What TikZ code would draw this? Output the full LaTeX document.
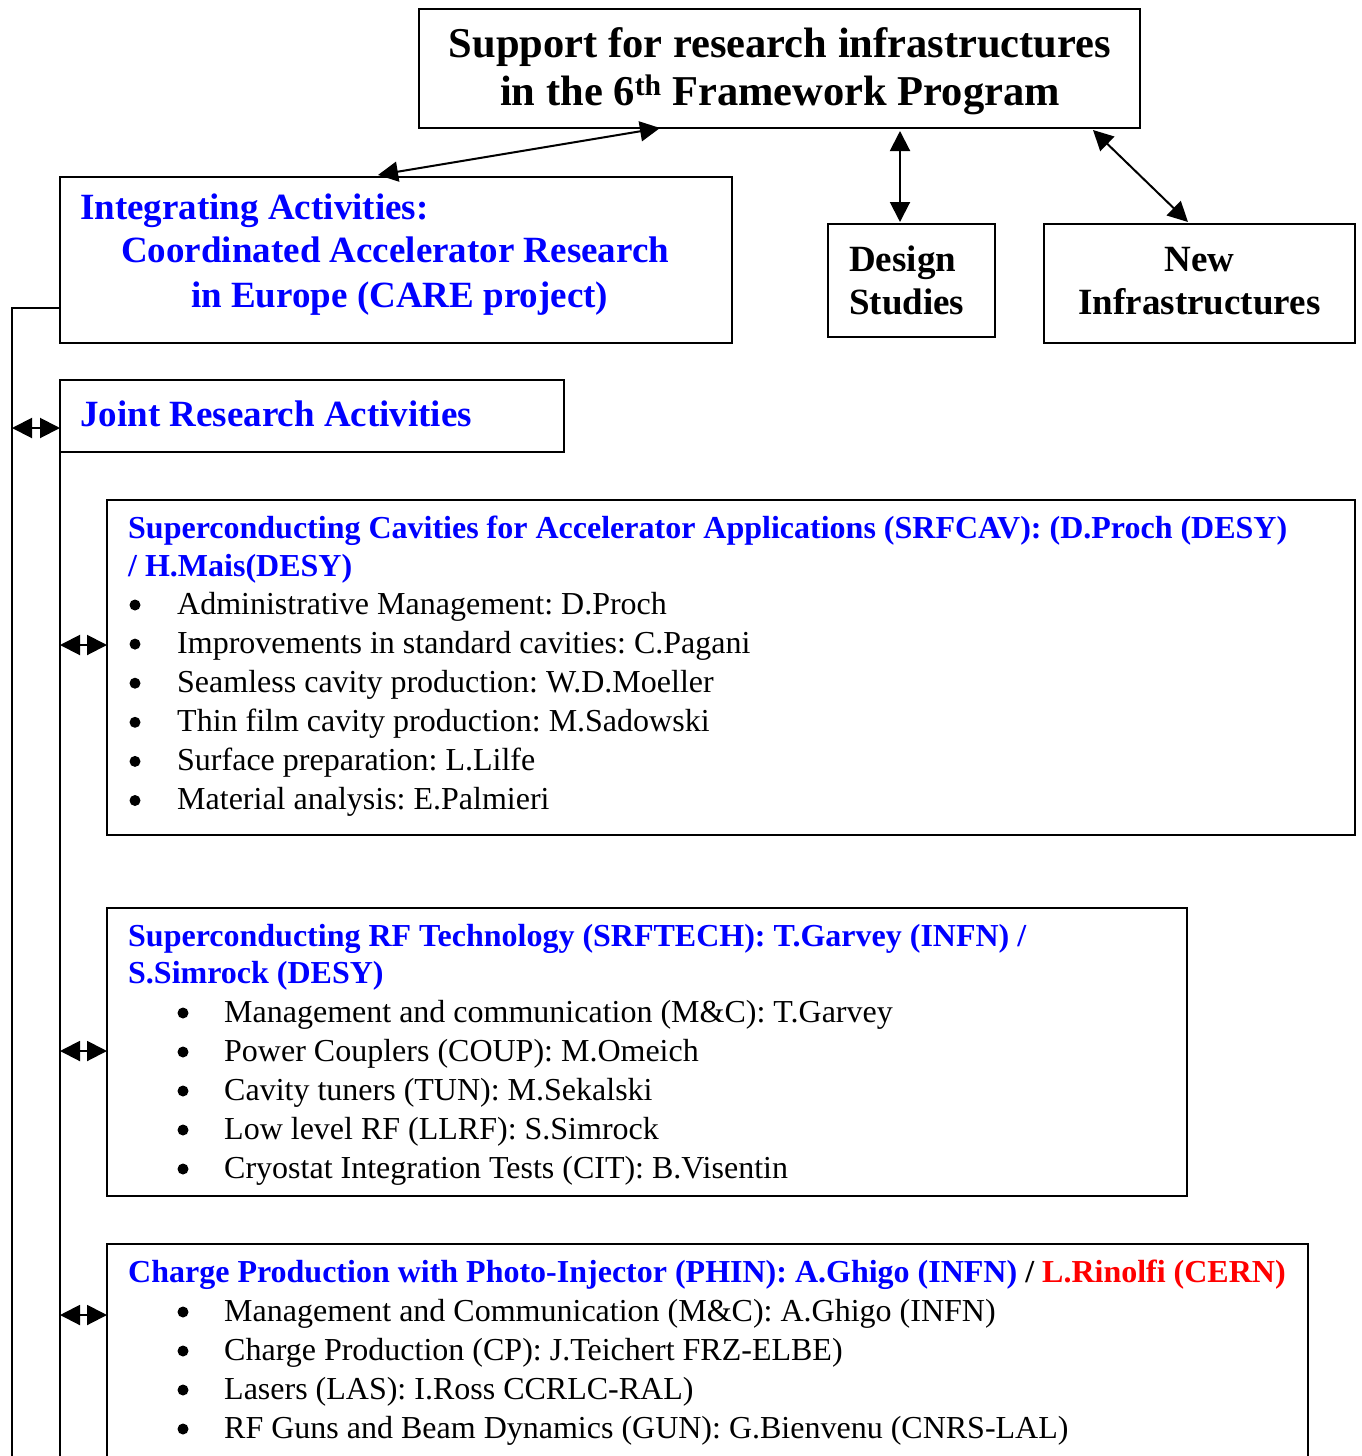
\documentclass[tikz,border=0pt]{standalone}
\usepackage{fontspec}
\setmainfont{Liberation Serif}
\usetikzlibrary{arrows.meta,calc}
\definecolor{tblue}{RGB}{0,0,255}
\definecolor{tred}{RGB}{255,0,0}
\begin{document}
\frenchspacing
\begin{tikzpicture}[x=1pt,y=-1pt,
  box/.style={draw,line width=2pt,inner sep=0pt,outer sep=0pt,anchor=north west},
  conn/.style={line width=2pt},
  dar/.style={line width=2pt,{Triangle[length=20pt,width=20pt]}-{Triangle[length=20pt,width=20pt]}},
  txt/.style={inner sep=0pt,anchor=base west},
  hugef/.style={font=\fontsize{42.5}{48}\selectfont\bfseries},
  bigf/.style={font=\fontsize{37}{43}\selectfont\bfseries},
  headf/.style={font=\fontsize{32}{38}\selectfont\bfseries,text=tblue},
  itemf/.style={font=\fontsize{32}{39}\selectfont},
  bul/.style={circle,fill=black,inner sep=0pt,minimum size=11pt},
]
\useasboundingbox (0,0) rectangle (1362,1456);
\clip (0,0) rectangle (1362,1456);
\coordinate (bot) at (12,1470);

% boxes
\node[box,minimum width=721pt,minimum height=119pt] (top) at (419,9) {};
\node[box,minimum width=672pt,minimum height=166pt] (ia) at (60,177) {};
\node[box,minimum width=167pt,minimum height=113pt] (ds) at (828,224) {};
\node[box,minimum width=311pt,minimum height=119pt] (ni) at (1044,224) {};
\node[box,minimum width=504pt,minimum height=72pt] (jra) at (60,380) {};
\node[box,minimum width=1248pt,minimum height=335pt] (cav) at (107,500) {};
\node[box,minimum width=1080pt,minimum height=288pt] (tech) at (107,908) {};
\node[box,minimum width=1201pt,minimum height=260pt] (phin) at (107,1244) {};

% top title
\node[txt,hugef,anchor=base] (t1) at (780,57) {Support for research infrastructures};
\node[txt,hugef,anchor=base] (t2) at (780,105) {in the 6\textsuperscript{th} Framework Program};

% integrating
\node[txt,bigf,text=tblue] (i1) at (80,219) {Integrating Activities:};
\node[txt,bigf,text=tblue] (i2) at (121,262) {Coordinated Accelerator Research};
\node[txt,bigf,text=tblue] (i3) at (191,307) {in Europe (CARE project)};

% design studies
\node[txt,bigf] (d1) at (849,271) {Design};
\node[txt,bigf] (d2) at (849,314) {Studies};

% new infrastructures
\node[txt,bigf,anchor=base] (n1) at (1199.5,271) {New};
\node[txt,bigf,anchor=base] (n2) at (1199.5,314) {Infrastructures};

% JRA
\node[txt,bigf,text=tblue] (j1) at (80,426) {Joint Research Activities};

% SRFCAV
\node[txt,headf] (c1) at (128,538) {Superconducting Cavities for Accelerator Applications (SRFCAV): (D.Proch (DESY)};
\node[txt,headf] (c2) at (128,576) {/ H.Mais(DESY)};
\foreach \t [count=\i] in {Administrative Management: D.Proch,
  Improvements in standard cavities: C.Pagani,
  Seamless cavity production: W.D.Moeller,
  Thin film cavity production: M.Sadowski,
  Surface preparation: L.Lilfe,
  Material analysis: E.Palmieri}{
  \node[bul] (cb\i) at (135,{605+39.1*(\i-1)}) {};
  \node[txt,itemf] (ci\i) at (177,{614+39.1*(\i-1)}) {\t};
}

% SRFTECH
\node[txt,headf] (s1) at (128,946) {Superconducting RF Technology (SRFTECH): T.Garvey (INFN) /};
\node[txt,headf] (s2) at (128,983) {S.Simrock (DESY)};
\foreach \t [count=\i] in {Management and communication (M\&C): T.Garvey,
  Power Couplers (COUP): M.Omeich,
  Cavity tuners (TUN): M.Sekalski,
  Low level RF (LLRF): S.Simrock,
  Cryostat Integration Tests (CIT): B.Visentin}{
  \node[bul] (sb\i) at (183,{1013+39*(\i-1)}) {};
  \node[txt,itemf] (si\i) at (224,{1022+39*(\i-1)}) {\t};
}

% PHIN
\node[txt,headf] (p1) at (128,1282) {Charge Production with Photo-Injector (PHIN): A.Ghigo (INFN) \textcolor{black}{/} \textcolor{tred}{L.Rinolfi (CERN)}};
\foreach \t [count=\i] in {Management and Communication (M\&C): A.Ghigo (INFN),
  Charge Production (CP): J.Teichert FRZ-ELBE),
  Lasers (LAS): I.Ross CCRLC-RAL),
  RF Guns and Beam Dynamics (GUN): G.Bienvenu (CNRS-LAL)}{
  \node[bul] (pb\i) at (183,{1312+39*(\i-1)}) {};
  \node[txt,itemf] (pi\i) at (224,{1321+39*(\i-1)}) {\t};
}

% connectors at top
\draw[dar] ([xshift=-18pt,yshift=2pt]ia.north) -- ([xshift=241pt]top.south west);
\draw[dar] ([xshift=481pt,yshift=-3pt]top.south west) -- ([xshift=72pt,yshift=2pt]ds.north west);
\draw[dar] ([xshift=-47pt,yshift=-2pt]top.south east) -- ([xshift=144pt,yshift=2pt]ni.north west);

% left bus lines
\draw[conn] ([yshift=-131pt]ia.north west) -| (bot);
\draw[conn] (jra.south west) -- (jra.south west |- bot);
\draw[dar] ([yshift=-48pt]jra.north west -| bot) -- ([yshift=-48pt]jra.north west);
\draw[dar] ([yshift=-145pt]cav.north west -| jra.south west) -- ([yshift=-145pt]cav.north west);
\draw[dar] ([yshift=-143pt]tech.north west -| jra.south west) -- ([yshift=-143pt]tech.north west);
\draw[dar] ([yshift=-71pt]phin.north west -| jra.south west) -- ([yshift=-71pt]phin.north west);
\end{tikzpicture}
\end{document}
